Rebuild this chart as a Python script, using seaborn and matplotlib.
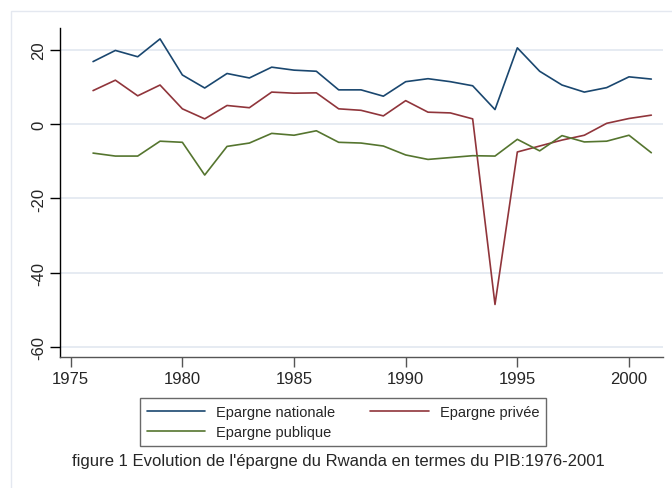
import numpy as np
import pandas as pd
import matplotlib
matplotlib.use("Agg")
import matplotlib.pyplot as plt
import seaborn as sns
from matplotlib.patches import Rectangle

# Values (% of GDP)
years = list(range(1976, 2002))
epargne_nationale = [16.8, 19.8, 18.1, 22.9, 13.2, 9.7, 13.6, 12.4, 15.3, 14.5, 14.2, 9.2, 9.2,
                     7.5, 11.4, 12.2, 11.4, 10.3, 3.9, 20.5, 14.2, 10.5, 8.6, 9.8, 12.7, 12.1]
epargne_privee = [9.0, 11.8, 7.6, 10.5, 4.1, 1.4, 5.0, 4.4, 8.6, 8.3, 8.4, 4.1, 3.7,
                  2.2, 6.3, 3.2, 3.0, 1.4, -48.5, -7.5, -5.9, -4.3, -3.0, 0.2, 1.5, 2.4]
epargne_publique = [-7.8, -8.6, -8.6, -4.6, -4.9, -13.7, -6.0, -5.1, -2.5, -3.0, -1.8, -4.9, -5.1,
                    -5.9, -8.3, -9.5, -9.0, -8.5, -8.6, -4.1, -7.2, -3.1, -4.8, -4.6, -3.0, -7.7]
series_names = ["Epargne nationale", "Epargne privée", "Epargne publique"]
series_colors = ["#1a476f", "#90353b", "#55752f"]
x_ticks = [1975, 1980, 1985, 1990, 1995, 2000]
y_ticks = [-60, -40, -20, 0, 20]
caption = "figure 1 Evolution de l'épargne du Rwanda en termes du PIB:1976-2001"

df = pd.DataFrame({
    "annee": years * 3,
    "valeur": epargne_nationale + epargne_privee + epargne_publique,
    "serie": [series_names[0]] * len(years) + [series_names[1]] * len(years)
             + [series_names[2]] * len(years),
})

sns.set_style("white")
plt.rcParams["font.family"] = ["Liberation Sans", "DejaVu Sans"]
plt.rcParams["axes.unicode_minus"] = False

W, H = 672, 489
fig = plt.figure(figsize=(W / 100, H / 100), dpi=100)
fig.patch.set_facecolor("white")

# light frame of the graph region (left and top edges visible)
fig.patches.append(Rectangle((11 / W, -0.1), 1.2, 1 - 12 / H + 0.1, transform=fig.transFigure,
                             fill=False, edgecolor="#e4e8f0", linewidth=1.0))

ax = fig.add_axes([60 / W, 1 - 358.3 / H, (662.7 - 60) / W, (358.3 - 29.3) / H])
sns.lineplot(data=df, x="annee", y="valeur", hue="serie", hue_order=series_names,
             palette=series_colors, linewidth=1.2, ax=ax, legend=False)

ax.set_xlim(1974.52, 2001.51)
ax.set_ylim(-62.7, 25.75)
ax.set_xticks(x_ticks)
ax.set_yticks(y_ticks)
ax.set_xlabel("")
ax.set_ylabel("")
ax.grid(axis="y", color="#e2e7f0", linewidth=1.2)
ax.grid(axis="x", visible=False)
ax.set_axisbelow(True)
for side in ["top", "right"]:
    ax.spines[side].set_visible(False)
ax.spines["left"].set_color("black")
ax.spines["left"].set_linewidth(1.0)
ax.spines["bottom"].set_color("#555555")
ax.spines["bottom"].set_linewidth(1.0)
ax.tick_params(axis="x", length=7, width=1, color="#555555", labelsize=12, pad=3)
ax.tick_params(axis="y", length=7, width=1, color="black", labelsize=12, pad=3)
ax.tick_params(bottom=True, left=True)
for lab in ax.get_yticklabels():
    lab.set_rotation(90)
    lab.set_va("center")

# legend: row-major order (nationale, privée / publique)
handles = [plt.Line2D([], [], color=c, linewidth=1.2) for c in series_colors]
order = [0, 2, 1]
leg = fig.legend([handles[i] for i in order], [series_names[i] for i in order],
                 ncol=2, loc="center", bbox_to_anchor=(343 / W, 1 - 423 / H),
                 fontsize=10.5, frameon=True, fancybox=False, handlelength=4.0,
                 handletextpad=0.75, columnspacing=2.4, borderpad=0.5, labelspacing=0.4)
leg.get_frame().set_edgecolor("#444444")
leg.get_frame().set_linewidth(1.0)

fig.text(338 / W, 1 - 462 / H, caption, ha="center", va="center", fontsize=12)

fig.savefig("out.png", dpi=100)
